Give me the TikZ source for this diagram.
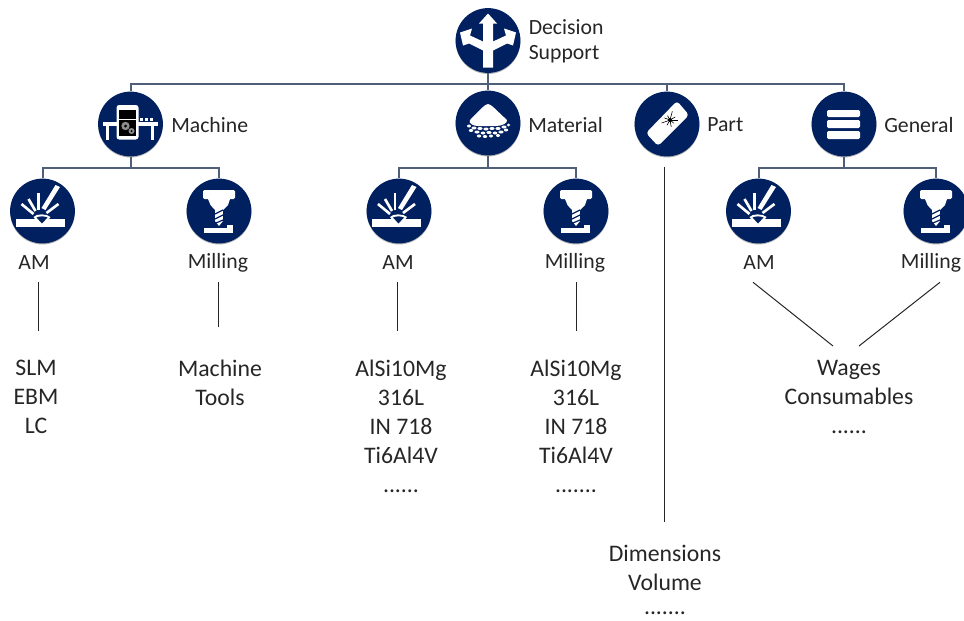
\documentclass[tikz,border=0pt]{standalone}
\usepackage{fontspec}
\setmainfont{Carlito}
\definecolor{navy}{HTML}{002060}
\definecolor{bus}{HTML}{4F5F7A}
\definecolor{ink}{HTML}{262626}
\tikzset{
  disc/.style={circle,fill=navy,minimum size=48.6pt,inner sep=0pt,
    preaction={fill=black!30,transform canvas={yshift=-0.8pt}}},
  lbl/.style={font=\fontsize{16.3}{21.75}\selectfont,text=ink,inner sep=0pt,align=center,minimum height=15pt},
  lst/.style={lbl,anchor=north,font=\fontsize{17.8}{21.75}\selectfont},
  bus/.style={draw=bus,line width=1.5pt},
  thin/.style={draw=ink,line width=0.75pt},
  pics/arrows/.style={code={
    \fill[white] (-5,27)--(-5,10)--(-19,3)--(-25,5)--(-28,-8)--(-16,-12)--(-18,-5)--(-5,1)--(-5,-17)--(-9,-17)--(0,-27)--(9,-17)--(5,-17)--(5,1)--(18,-5)--(16,-12)--(28,-8)--(25,5)--(19,3)--(5,10)--(5,27)--cycle;
  }},
  pics/pile/.style={code={
    \fill[white] (0,-19) .. controls (3,-19) and (8,-13) .. (19,-3) .. controls (20,0) and (14,3) .. (8,3)
      -- (-10,3) .. controls (-15,3) and (-20,0) .. (-18,-3) .. controls (-8,-13) and (-3,-19) .. (0,-19) -- cycle;
    \foreach \a/\b/\c in {-19/3/2,-14/5/2.6,-8/5.5/2.6,-2/6/2.6,4/5.5/2.6,10/5.5/2.6,16/4/2.6,20.5/2/1.8,
      -17/7.5/2.2,-11/9/2.6,-5/10/2.4,1/9.5/2.6,7/10/2.4,13/9/2.6,18/7/2.2,
      -9/13/2.2,-3/13.5/2.2,3/13/2,10/12.5/2}
      \fill[white] (\a,\b) circle[x radius=\c,y radius=1.5];
  }},
  pics/machine/.style={code={
    \fill[white] (-28,-2) rectangle (27,2);
    \fill[white] (-25,0) rectangle (-22,16);
    \fill[white] (20,0) rectangle (23,16);
    \fill[white] (9,-6) rectangle (12,-3);
    \fill[white] (14,-6) rectangle (17,-3);
    \fill[white] (19,-6) rectangle (22,-3);
    \fill[white,rounded corners=2pt] (-14,-19) rectangle (8,15.5);
    \fill[black] (-12,-14) rectangle (5,-5.5);
    \fill[black] (-12,-4) rectangle (5,12);
    \fill[black!45] (-5,2) circle[radius=4.2];
    \fill[black] (-5,2) circle[radius=1.5];
    \fill[black!45] (1,7) circle[radius=3];
    \fill[black] (1,7) circle[radius=1];
  }},
  pics/weld/.style={code={
    \fill[white] (-27,8) rectangle (22,16);
    \fill[white] (-9,6) .. controls (-6,2.5) and (4,2.5) .. (8,6) -- (0,16) -- (-1,16) -- cycle;
    \fill[navy] (-6,6.5) .. controls (-3,5) and (2,5) .. (5,6.5) -- (-0.5,12.5) -- cycle;
    \fill[white] (13,-26)--(17.5,-24)--(3,-1)--(-1,-3)--cycle;
    \draw[white,line width=2pt] (-4,-1)--(-4,-18);
    \draw[white,line width=2pt] (-7,0)--(-14,-12);
    \draw[white,line width=2pt] (-9,3)--(-21,-7);
    \draw[white,line width=2pt] (4,2)--(16,-7);
  }},
  pics/mill/.style={code={
    \fill[white,rounded corners=1pt] (-16,-21) rectangle (16,-12);
    \fill[white] (-11,-12)--(11,-12)--(9,-6)--(6,-3)--(4,-1)--(-4,-1)--(-6,-3)--(-8.5,-6)--cycle;
    \fill[white] (-4,-1) rectangle (4,10);
    \fill[white] (-4,10)--(4,10)--(0,15)--cycle;
    \draw[navy,line width=0.9pt] (-4,3)--(4,-1) (-4,8)--(4,4) (-3,12)--(4,9);
    \fill[white] (-15,17) rectangle (14,21.5);
    \fill[white] (8,14) rectangle (14,18);
  }},
  pics/part/.style={code={
    \fill[white,rounded corners=2.5pt] (10,-23)--(22,-9)--(-9,22)--(-21,9)--cycle;
    \foreach \t/\l in {0/8,40/5,80/7,120/6,160/9,200/6,240/5,285/9,330/6}
      \draw[black,line width=0.45pt] (3,-4)--++(\t:\l);
    \fill[black] (3,-4) circle[radius=2];
  }},
  pics/bars/.style={code={
    \fill[white,rounded corners=1pt] (-17,-14) rectangle (16,-7);
    \fill[white,rounded corners=1pt] (-17,-4) rectangle (16,4);
    \fill[white,rounded corners=1pt] (-17,7) rectangle (16,15);
  }}
}
\begin{document}
\begin{tikzpicture}[x=0.75pt,y=-0.75pt]
\useasboundingbox (0,0) rectangle (964,621);
\clip (0,0) rectangle (964,621);
% hubs
\node[disc] (ds) at (488,40.5) {};
\node[disc] (ma) at (130.5,124) {};
\node[disc] (mt) at (488,123) {};
\node[disc] (pa) at (667,124) {};
\node[disc] (ge) at (844,124) {};
\node[disc] (a1) at (42.5,211) {};
\node[disc] (m1) at (219,211) {};
\node[disc] (a2) at (399,211) {};
\node[disc] (m2) at (576,211) {};
\node[disc] (a3) at (758.5,211) {};
\node[disc] (m3) at (936,211) {};
% bus connectors
\coordinate (busY) at (0,84);
\coordinate (busA) at (0,168);
\draw[bus] (ds.south) -- (mt.north);
\draw[bus] (ma.north) |- (busY -| ge.north) -- (ge.north);
\draw[bus] (pa.north) -- (pa.north |- busY);
\draw[bus] (ma.south) -- (ma.south |- busA);
\draw[bus] (a1.north) |- (busA -| m1.north) -- (m1.north);
\draw[bus] (mt.south) -- (mt.south |- busA);
\draw[bus] (a2.north) |- (busA -| m2.north) -- (m2.north);
\draw[bus] (ge.south) -- (ge.south |- busA);
\draw[bus] (a3.north) |- (busA -| m3.north) -- (m3.north);
% icons
\pic at (ds) {arrows};
\pic at (mt) {pile};
\pic at (ma) {machine};
\pic at (pa) {part};
\pic at (ge) {bars};
\foreach \n in {a1,a2,a3} {\pic at (\n) {weld};}
\foreach \n in {m1,m2,m3} {\pic at (\n) {mill};}
% labels
\node[lbl,anchor=west,font=\fontsize{16.3}{18.75}\selectfont,align=left] (tds) at (528.5,41.5) {Decision\\Support};
\node[lbl,anchor=west] (tma) at (171,125) {Machine};
\node[lbl,anchor=west] (tmt) at (528,125) {Material};
\node[lbl,anchor=west] (tpa) at (707,125) {Part};
\node[lbl,anchor=west] (tge) at (884,125) {General};
\node[lbl] (la1) at (34,263) {AM};
\node[lbl] (lm1) at (218,263) {Milling};
\node[lbl] (la2) at (398,263) {AM};
\node[lbl] (lm2) at (575,263) {Milling};
\node[lbl] (la3) at (759,263) {AM};
\node[lbl] (lm3) at (931,263) {Milling};
% lists
\node[lst] (s1) at (36,360) {SLM\\EBM\\LC};
\node[lst] (s2) at (220,360) {Machine\\Tools};
\node[lst] (s3) at (401,360) {AlSi10Mg\\316L\\IN 718\\Ti6Al4V\\......};
\node[lst] (s4) at (576,360) {AlSi10Mg\\316L\\IN 718\\Ti6Al4V\\.......};
\node[lst] (s5) at (665,545) {Dimensions\\Volume\\[-3.5pt].......};
\node[lst] (s6) at (849,360) {Wages\\Consumables\\......};
% thin connectors
\draw[thin] ([shift={(4,9)}]la1.south) -- ([shift={(2,-29)}]s1.north);
\draw[thin] ([shift={(0,9)}]lm1.south) -- ([shift={(-2,-33)}]s2.north);
\draw[thin] ([shift={(-1,9)}]la2.south) -- ([shift={(-4,-29)}]s3.north);
\draw[thin] ([shift={(1,9)}]lm2.south) -- ([shift={(0,-29)}]s4.north);
\draw[thin] ([shift={(-3,10)}]pa.south) -- ([shift={(-1,-23)}]s5.north);
\draw[thin] ([shift={(-6,9)}]la3.south) -- ([shift={(-16,-14)}]s6.north);
\draw[thin] ([shift={(9,9)}]lm3.south) -- ([shift={(10,-14)}]s6.north);
\end{tikzpicture}
\end{document}
